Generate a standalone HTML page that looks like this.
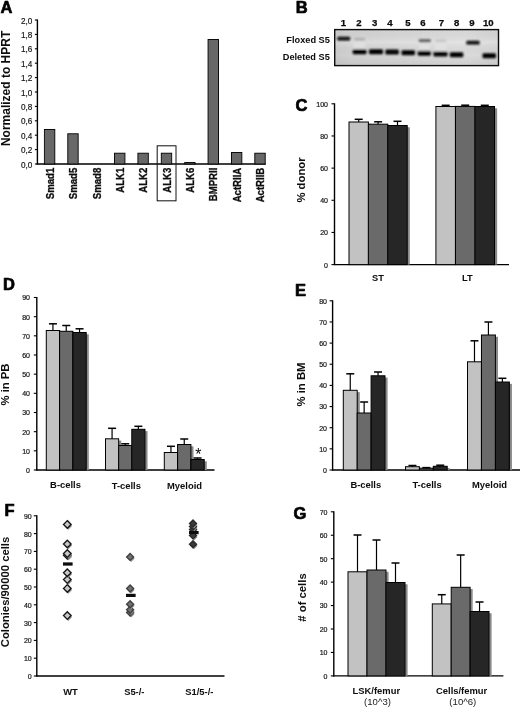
<!DOCTYPE html>
<html><head><meta charset="utf-8"><title>Figure</title>
<style>
html,body{margin:0;padding:0;background:#fff;}
body{width:520px;height:707px;overflow:hidden;font-family:"Liberation Sans",sans-serif;}
svg{display:block;font-family:"Liberation Sans",sans-serif;}
</style></head><body>
<svg width="520" height="707" viewBox="0 0 520 707">
<defs>
<linearGradient id="gelbg" x1="0" y1="0" x2="1" y2="0">
<stop offset="0" stop-color="#cfcfcf"/><stop offset="0.1" stop-color="#d6d6d6"/><stop offset="0.5" stop-color="#dcdcdc"/><stop offset="0.8" stop-color="#e0e0e0"/><stop offset="1" stop-color="#d8d8d8"/>
</linearGradient>
<linearGradient id="gelv" x1="0" y1="0" x2="0" y2="1">
<stop offset="0" stop-color="#000" stop-opacity="0.03"/><stop offset="0.35" stop-color="#fff" stop-opacity="0.12"/><stop offset="0.7" stop-color="#000" stop-opacity="0.02"/><stop offset="1" stop-color="#000" stop-opacity="0.08"/>
</linearGradient>
<filter id="bandblur" x="-5%" y="-20%" width="110%" height="140%"><feGaussianBlur stdDeviation="0.9"/></filter>
<filter id="gelblur" x="-5%" y="-20%" width="110%" height="140%"><feGaussianBlur stdDeviation="0.25"/></filter>
<filter id="soft" x="-2%" y="-2%" width="104%" height="104%"><feGaussianBlur stdDeviation="0.35"/></filter>
</defs>
<rect width="520" height="707" fill="#fff"/>
<g filter="url(#soft)">
<text transform="translate(0.6,13.0) scale(1,1)" font-size="16.5" font-weight="bold" text-anchor="start" fill="#000" stroke="#000" stroke-width="0.7" stroke-linejoin="round">A</text>
<line x1="37.4" y1="19.5" x2="37.4" y2="164.5" stroke="#000" stroke-width="1.4"/>
<line x1="34.9" y1="20.0" x2="37.4" y2="20.0" stroke="#000" stroke-width="1.1"/>
<text transform="translate(32.3,23.504) scale(0.92,1)" font-size="8.9" font-weight="normal" text-anchor="end" fill="#141414" stroke="#141414" stroke-width="0.18" stroke-linejoin="round">2,0</text>
<line x1="34.9" y1="34.4" x2="37.4" y2="34.4" stroke="#000" stroke-width="1.1"/>
<text transform="translate(32.3,37.903999999999996) scale(0.92,1)" font-size="8.9" font-weight="normal" text-anchor="end" fill="#141414" stroke="#141414" stroke-width="0.18" stroke-linejoin="round">1,8</text>
<line x1="34.9" y1="48.8" x2="37.4" y2="48.8" stroke="#000" stroke-width="1.1"/>
<text transform="translate(32.3,52.303999999999995) scale(0.92,1)" font-size="8.9" font-weight="normal" text-anchor="end" fill="#141414" stroke="#141414" stroke-width="0.18" stroke-linejoin="round">1,6</text>
<line x1="34.9" y1="63.2" x2="37.4" y2="63.2" stroke="#000" stroke-width="1.1"/>
<text transform="translate(32.3,66.704) scale(0.92,1)" font-size="8.9" font-weight="normal" text-anchor="end" fill="#141414" stroke="#141414" stroke-width="0.18" stroke-linejoin="round">1,4</text>
<line x1="34.9" y1="77.6" x2="37.4" y2="77.6" stroke="#000" stroke-width="1.1"/>
<text transform="translate(32.3,81.10399999999998) scale(0.92,1)" font-size="8.9" font-weight="normal" text-anchor="end" fill="#141414" stroke="#141414" stroke-width="0.18" stroke-linejoin="round">1,2</text>
<line x1="34.9" y1="92.0" x2="37.4" y2="92.0" stroke="#000" stroke-width="1.1"/>
<text transform="translate(32.3,95.50399999999999) scale(0.92,1)" font-size="8.9" font-weight="normal" text-anchor="end" fill="#141414" stroke="#141414" stroke-width="0.18" stroke-linejoin="round">1,0</text>
<line x1="34.9" y1="106.4" x2="37.4" y2="106.4" stroke="#000" stroke-width="1.1"/>
<text transform="translate(32.3,109.904) scale(0.92,1)" font-size="8.9" font-weight="normal" text-anchor="end" fill="#141414" stroke="#141414" stroke-width="0.18" stroke-linejoin="round">0,8</text>
<line x1="34.9" y1="120.8" x2="37.4" y2="120.8" stroke="#000" stroke-width="1.1"/>
<text transform="translate(32.3,124.30399999999999) scale(0.92,1)" font-size="8.9" font-weight="normal" text-anchor="end" fill="#141414" stroke="#141414" stroke-width="0.18" stroke-linejoin="round">0,6</text>
<line x1="34.9" y1="135.2" x2="37.4" y2="135.2" stroke="#000" stroke-width="1.1"/>
<text transform="translate(32.3,138.704) scale(0.92,1)" font-size="8.9" font-weight="normal" text-anchor="end" fill="#141414" stroke="#141414" stroke-width="0.18" stroke-linejoin="round">0,4</text>
<line x1="34.9" y1="149.6" x2="37.4" y2="149.6" stroke="#000" stroke-width="1.1"/>
<text transform="translate(32.3,153.104) scale(0.92,1)" font-size="8.9" font-weight="normal" text-anchor="end" fill="#141414" stroke="#141414" stroke-width="0.18" stroke-linejoin="round">0,2</text>
<line x1="34.9" y1="164.0" x2="37.4" y2="164.0" stroke="#000" stroke-width="1.1"/>
<text transform="translate(32.3,167.50400000000002) scale(0.92,1)" font-size="8.9" font-weight="normal" text-anchor="end" fill="#141414" stroke="#141414" stroke-width="0.18" stroke-linejoin="round">0,0</text>
<line x1="36.7" y1="164" x2="265.7" y2="164" stroke="#000" stroke-width="1.4"/>
<text transform="translate(10.0,88.4) rotate(-90) scale(1,1)" font-size="12.0" font-weight="bold" text-anchor="middle" fill="#0a0a0a">Normalized to HPRT</text>
<rect x="44.40" y="129.44" width="10.40" height="34.56" fill="#686868" stroke="#000" stroke-width="0.9"/>
<text transform="translate(53.800000000000004,167.7) rotate(-90) scale(0.85,1)" font-size="11.3" font-weight="bold" text-anchor="end" fill="#0a0a0a" stroke="#0a0a0a" stroke-width="0.3">Smad1</text>
<rect x="67.78" y="133.76" width="10.40" height="30.24" fill="#686868" stroke="#000" stroke-width="0.9"/>
<text transform="translate(77.18,167.7) rotate(-90) scale(0.85,1)" font-size="11.3" font-weight="bold" text-anchor="end" fill="#0a0a0a" stroke="#0a0a0a" stroke-width="0.3">Smad5</text>
<text transform="translate(100.56,167.7) rotate(-90) scale(0.85,1)" font-size="11.3" font-weight="bold" text-anchor="end" fill="#0a0a0a" stroke="#0a0a0a" stroke-width="0.3">Smad8</text>
<rect x="114.54" y="153.20" width="10.40" height="10.80" fill="#686868" stroke="#000" stroke-width="0.9"/>
<text transform="translate(123.94000000000001,167.7) rotate(-90) scale(0.85,1)" font-size="11.3" font-weight="bold" text-anchor="end" fill="#0a0a0a" stroke="#0a0a0a" stroke-width="0.3">ALK1</text>
<rect x="137.92" y="153.20" width="10.40" height="10.80" fill="#686868" stroke="#000" stroke-width="0.9"/>
<text transform="translate(147.32,167.7) rotate(-90) scale(0.85,1)" font-size="11.3" font-weight="bold" text-anchor="end" fill="#0a0a0a" stroke="#0a0a0a" stroke-width="0.3">ALK2</text>
<rect x="161.30" y="153.20" width="10.40" height="10.80" fill="#686868" stroke="#000" stroke-width="0.9"/>
<text transform="translate(170.7,167.7) rotate(-90) scale(0.85,1)" font-size="11.3" font-weight="bold" text-anchor="end" fill="#0a0a0a" stroke="#0a0a0a" stroke-width="0.3">ALK3</text>
<rect x="184.68" y="162.56" width="10.40" height="1.44" fill="#686868" stroke="#000" stroke-width="0.9"/>
<text transform="translate(194.07999999999998,167.7) rotate(-90) scale(0.85,1)" font-size="11.3" font-weight="bold" text-anchor="end" fill="#0a0a0a" stroke="#0a0a0a" stroke-width="0.3">ALK6</text>
<rect x="208.06" y="39.44" width="10.40" height="124.56" fill="#686868" stroke="#000" stroke-width="0.9"/>
<text transform="translate(217.45999999999998,167.7) rotate(-90) scale(0.85,1)" font-size="11.3" font-weight="bold" text-anchor="end" fill="#0a0a0a" stroke="#0a0a0a" stroke-width="0.3">BMPRII</text>
<rect x="231.44" y="152.48" width="10.40" height="11.52" fill="#686868" stroke="#000" stroke-width="0.9"/>
<text transform="translate(240.83999999999997,167.7) rotate(-90) scale(0.85,1)" font-size="11.3" font-weight="bold" text-anchor="end" fill="#0a0a0a" stroke="#0a0a0a" stroke-width="0.3">ActRIIA</text>
<rect x="254.82" y="153.20" width="10.40" height="10.80" fill="#686868" stroke="#000" stroke-width="0.9"/>
<text transform="translate(264.21999999999997,167.7) rotate(-90) scale(0.85,1)" font-size="11.3" font-weight="bold" text-anchor="end" fill="#0a0a0a" stroke="#0a0a0a" stroke-width="0.3">ActRIIB</text>
<rect x="157.20" y="145.80" width="18.80" height="55.00" fill="none" stroke="#111" stroke-width="1.0"/>
<text transform="translate(295.8,13.0) scale(1,1)" font-size="16.5" font-weight="bold" text-anchor="start" fill="#000" stroke="#000" stroke-width="0.7" stroke-linejoin="round">B</text>
<text transform="translate(329.8,43.4) scale(0.96,1)" font-size="9.6" font-weight="bold" text-anchor="end" fill="#0a0a0a">Floxed S5</text>
<text transform="translate(329.8,60.4) scale(0.96,1)" font-size="9.6" font-weight="bold" text-anchor="end" fill="#0a0a0a">Deleted S5</text>
<text transform="translate(343.5,25.6) scale(1,1)" font-size="9.6" font-weight="bold" text-anchor="middle" fill="#0a0a0a" stroke="#0a0a0a" stroke-width="0.25" stroke-linejoin="round">1</text>
<text transform="translate(358.8,25.6) scale(1,1)" font-size="9.6" font-weight="bold" text-anchor="middle" fill="#0a0a0a" stroke="#0a0a0a" stroke-width="0.25" stroke-linejoin="round">2</text>
<text transform="translate(374.6,25.6) scale(1,1)" font-size="9.6" font-weight="bold" text-anchor="middle" fill="#0a0a0a" stroke="#0a0a0a" stroke-width="0.25" stroke-linejoin="round">3</text>
<text transform="translate(390,25.6) scale(1,1)" font-size="9.6" font-weight="bold" text-anchor="middle" fill="#0a0a0a" stroke="#0a0a0a" stroke-width="0.25" stroke-linejoin="round">4</text>
<text transform="translate(407.9,25.6) scale(1,1)" font-size="9.6" font-weight="bold" text-anchor="middle" fill="#0a0a0a" stroke="#0a0a0a" stroke-width="0.25" stroke-linejoin="round">5</text>
<text transform="translate(423,25.6) scale(1,1)" font-size="9.6" font-weight="bold" text-anchor="middle" fill="#0a0a0a" stroke="#0a0a0a" stroke-width="0.25" stroke-linejoin="round">6</text>
<text transform="translate(441.3,25.6) scale(1,1)" font-size="9.6" font-weight="bold" text-anchor="middle" fill="#0a0a0a" stroke="#0a0a0a" stroke-width="0.25" stroke-linejoin="round">7</text>
<text transform="translate(456.7,25.6) scale(1,1)" font-size="9.6" font-weight="bold" text-anchor="middle" fill="#0a0a0a" stroke="#0a0a0a" stroke-width="0.25" stroke-linejoin="round">8</text>
<text transform="translate(472,25.6) scale(1,1)" font-size="9.6" font-weight="bold" text-anchor="middle" fill="#0a0a0a" stroke="#0a0a0a" stroke-width="0.25" stroke-linejoin="round">9</text>
<text transform="translate(488.3,25.6) scale(1,1)" font-size="9.6" font-weight="bold" text-anchor="middle" fill="#0a0a0a" stroke="#0a0a0a" stroke-width="0.25" stroke-linejoin="round">10</text>
<g filter="url(#gelblur)">
<rect x="334.7" y="29.6" width="163.8" height="36" fill="url(#gelbg)"/>
<rect x="334.7" y="29.6" width="163.8" height="36" fill="url(#gelv)" stroke="#0a0a0a" stroke-width="1.4"/>
</g>
<g filter="url(#bandblur)">
<rect x="353.5" y="40.5" width="12.0" height="9" rx="1.2" fill="#dfdfdf"/>
<rect x="419" y="42.5" width="11" height="9" rx="1.2" fill="#e1e1e1"/>
<rect x="435" y="42.5" width="11.5" height="9" rx="1.2" fill="#e1e1e1"/>
<rect x="337.3" y="36.75" width="12.899999999999977" height="3.7" rx="1.2" fill="#080808"/>
<rect x="354" y="38.0" width="11" height="2.6" rx="1.2" fill="#ababab"/>
<rect x="352.7" y="49.2" width="13.800000000000011" height="5.0" rx="1.2" fill="#060606"/>
<rect x="369" y="49.3" width="14" height="5.0" rx="1.2" fill="#060606"/>
<rect x="385.4" y="49.6" width="13.400000000000034" height="5.0" rx="1.2" fill="#060606"/>
<rect x="401.5" y="50.3" width="13.5" height="5.0" rx="1.2" fill="#060606"/>
<rect x="417.7" y="50.8" width="13.100000000000023" height="5.0" rx="1.2" fill="#060606"/>
<rect x="418.7" y="39.3" width="12.100000000000023" height="3.0" rx="1.2" fill="#585858"/>
<rect x="435" y="39.599999999999994" width="11.5" height="2.4" rx="1.2" fill="#c4c4c4"/>
<rect x="433.5" y="51.4" width="14.0" height="5.0" rx="1.2" fill="#060606"/>
<rect x="449.8" y="52.3" width="13.5" height="5.0" rx="1.2" fill="#060606"/>
<rect x="466.3" y="40.800000000000004" width="13.300000000000011" height="3.8" rx="1.2" fill="#080808"/>
<rect x="482.5" y="53.2" width="13.5" height="5.0" rx="1.2" fill="#060606"/>
</g>
<text transform="translate(295.6,111.2) scale(1,1)" font-size="16.5" font-weight="bold" text-anchor="start" fill="#000" stroke="#000" stroke-width="0.7" stroke-linejoin="round">C</text>
<line x1="334.5" y1="103.3" x2="334.5" y2="265.1" stroke="#000" stroke-width="1.4"/>
<line x1="331.5" y1="103.8" x2="334.5" y2="103.8" stroke="#000" stroke-width="1.1"/>
<text transform="translate(328,106.72) scale(1,1)" font-size="7" font-weight="normal" text-anchor="end" fill="#101010" stroke="#101010" stroke-width="0.18" stroke-linejoin="round">100</text>
<line x1="331.5" y1="135.96" x2="334.5" y2="135.96" stroke="#000" stroke-width="1.1"/>
<text transform="translate(328,138.88000000000002) scale(1,1)" font-size="7" font-weight="normal" text-anchor="end" fill="#101010" stroke="#101010" stroke-width="0.18" stroke-linejoin="round">80</text>
<line x1="331.5" y1="168.12" x2="334.5" y2="168.12" stroke="#000" stroke-width="1.1"/>
<text transform="translate(328,171.04000000000002) scale(1,1)" font-size="7" font-weight="normal" text-anchor="end" fill="#101010" stroke="#101010" stroke-width="0.18" stroke-linejoin="round">60</text>
<line x1="331.5" y1="200.28" x2="334.5" y2="200.28" stroke="#000" stroke-width="1.1"/>
<text transform="translate(328,203.20000000000002) scale(1,1)" font-size="7" font-weight="normal" text-anchor="end" fill="#101010" stroke="#101010" stroke-width="0.18" stroke-linejoin="round">40</text>
<line x1="331.5" y1="232.44" x2="334.5" y2="232.44" stroke="#000" stroke-width="1.1"/>
<text transform="translate(328,235.36) scale(1,1)" font-size="7" font-weight="normal" text-anchor="end" fill="#101010" stroke="#101010" stroke-width="0.18" stroke-linejoin="round">20</text>
<line x1="331.5" y1="264.6" x2="334.5" y2="264.6" stroke="#000" stroke-width="1.1"/>
<text transform="translate(328,267.52) scale(1,1)" font-size="7" font-weight="normal" text-anchor="end" fill="#101010" stroke="#101010" stroke-width="0.18" stroke-linejoin="round">0</text>
<line x1="334" y1="264.6" x2="509" y2="264.6" stroke="#000" stroke-width="1.4"/>
<text transform="translate(305.0,180) rotate(-90) scale(1,1)" font-size="11.3" font-weight="bold" text-anchor="middle" fill="#0a0a0a">% donor</text>
<rect x="351.60" y="123.80" width="19.40" height="140.80" fill="#8a8a8a"/>
<rect x="371.00" y="126.00" width="19.40" height="138.60" fill="#8a8a8a"/>
<rect x="390.40" y="127.30" width="19.40" height="137.30" fill="#8a8a8a"/>
<rect x="349.00" y="122.00" width="19.40" height="142.60" fill="#c2c2c2" stroke="#000" stroke-width="1"/>
<rect x="368.40" y="124.20" width="19.40" height="140.40" fill="#6b6b6b" stroke="#000" stroke-width="1"/>
<rect x="387.80" y="125.50" width="19.40" height="139.10" fill="#252525" stroke="#000" stroke-width="1"/>
<line x1="358.7" y1="119.3" x2="358.7" y2="122" stroke="#000" stroke-width="1.2"/>
<line x1="354.7" y1="119.3" x2="362.7" y2="119.3" stroke="#000" stroke-width="1.5"/>
<line x1="378.09999999999997" y1="121.8" x2="378.09999999999997" y2="124.2" stroke="#000" stroke-width="1.2"/>
<line x1="374.09999999999997" y1="121.8" x2="382.09999999999997" y2="121.8" stroke="#000" stroke-width="1.5"/>
<line x1="397.5" y1="121.3" x2="397.5" y2="125.5" stroke="#000" stroke-width="1.2"/>
<line x1="393.5" y1="121.3" x2="401.5" y2="121.3" stroke="#000" stroke-width="1.5"/>
<rect x="438.50" y="108.30" width="19.55" height="156.30" fill="#8a8a8a"/>
<rect x="458.05" y="108.20" width="19.55" height="156.40" fill="#8a8a8a"/>
<rect x="477.60" y="108.30" width="19.55" height="156.30" fill="#8a8a8a"/>
<rect x="435.90" y="106.50" width="19.55" height="158.10" fill="#c2c2c2" stroke="#000" stroke-width="1"/>
<rect x="455.45" y="106.40" width="19.55" height="158.20" fill="#6b6b6b" stroke="#000" stroke-width="1"/>
<rect x="475.00" y="106.50" width="19.55" height="158.10" fill="#252525" stroke="#000" stroke-width="1"/>
<line x1="445.67499999999995" y1="105.3" x2="445.67499999999995" y2="106.5" stroke="#000" stroke-width="1.2"/>
<line x1="441.67499999999995" y1="105.3" x2="449.67499999999995" y2="105.3" stroke="#000" stroke-width="1.5"/>
<line x1="465.22499999999997" y1="105.2" x2="465.22499999999997" y2="106.4" stroke="#000" stroke-width="1.2"/>
<line x1="461.22499999999997" y1="105.2" x2="469.22499999999997" y2="105.2" stroke="#000" stroke-width="1.5"/>
<line x1="484.775" y1="105.3" x2="484.775" y2="106.5" stroke="#000" stroke-width="1.2"/>
<line x1="480.775" y1="105.3" x2="488.775" y2="105.3" stroke="#000" stroke-width="1.5"/>
<text transform="translate(378,281) scale(1,1)" font-size="9.3" font-weight="bold" text-anchor="middle" fill="#0a0a0a">ST</text>
<text transform="translate(467.4,281) scale(1,1)" font-size="9.3" font-weight="bold" text-anchor="middle" fill="#0a0a0a">LT</text>
<text transform="translate(2.9,290.2) scale(1,1)" font-size="16.5" font-weight="bold" text-anchor="start" fill="#000" stroke="#000" stroke-width="0.7" stroke-linejoin="round">D</text>
<line x1="36.8" y1="297.0" x2="36.8" y2="470.5" stroke="#000" stroke-width="1.4"/>
<line x1="33.8" y1="297.5" x2="36.8" y2="297.5" stroke="#000" stroke-width="1.1"/>
<text transform="translate(30.0,300.41999999999996) scale(1,1)" font-size="7" font-weight="normal" text-anchor="end" fill="#101010" stroke="#101010" stroke-width="0.18" stroke-linejoin="round">90</text>
<line x1="33.8" y1="316.6666666666667" x2="36.8" y2="316.6666666666667" stroke="#000" stroke-width="1.1"/>
<text transform="translate(30.0,319.58666666666664) scale(1,1)" font-size="7" font-weight="normal" text-anchor="end" fill="#101010" stroke="#101010" stroke-width="0.18" stroke-linejoin="round">80</text>
<line x1="33.8" y1="335.8333333333333" x2="36.8" y2="335.8333333333333" stroke="#000" stroke-width="1.1"/>
<text transform="translate(30.0,338.7533333333333) scale(1,1)" font-size="7" font-weight="normal" text-anchor="end" fill="#101010" stroke="#101010" stroke-width="0.18" stroke-linejoin="round">70</text>
<line x1="33.8" y1="355.0" x2="36.8" y2="355.0" stroke="#000" stroke-width="1.1"/>
<text transform="translate(30.0,357.91999999999996) scale(1,1)" font-size="7" font-weight="normal" text-anchor="end" fill="#101010" stroke="#101010" stroke-width="0.18" stroke-linejoin="round">60</text>
<line x1="33.8" y1="374.1666666666667" x2="36.8" y2="374.1666666666667" stroke="#000" stroke-width="1.1"/>
<text transform="translate(30.0,377.08666666666664) scale(1,1)" font-size="7" font-weight="normal" text-anchor="end" fill="#101010" stroke="#101010" stroke-width="0.18" stroke-linejoin="round">50</text>
<line x1="33.8" y1="393.3333333333333" x2="36.8" y2="393.3333333333333" stroke="#000" stroke-width="1.1"/>
<text transform="translate(30.0,396.2533333333333) scale(1,1)" font-size="7" font-weight="normal" text-anchor="end" fill="#101010" stroke="#101010" stroke-width="0.18" stroke-linejoin="round">40</text>
<line x1="33.8" y1="412.5" x2="36.8" y2="412.5" stroke="#000" stroke-width="1.1"/>
<text transform="translate(30.0,415.41999999999996) scale(1,1)" font-size="7" font-weight="normal" text-anchor="end" fill="#101010" stroke="#101010" stroke-width="0.18" stroke-linejoin="round">30</text>
<line x1="33.8" y1="431.66666666666663" x2="36.8" y2="431.66666666666663" stroke="#000" stroke-width="1.1"/>
<text transform="translate(30.0,434.5866666666666) scale(1,1)" font-size="7" font-weight="normal" text-anchor="end" fill="#101010" stroke="#101010" stroke-width="0.18" stroke-linejoin="round">20</text>
<line x1="33.8" y1="450.83333333333337" x2="36.8" y2="450.83333333333337" stroke="#000" stroke-width="1.1"/>
<text transform="translate(30.0,453.75333333333333) scale(1,1)" font-size="7" font-weight="normal" text-anchor="end" fill="#101010" stroke="#101010" stroke-width="0.18" stroke-linejoin="round">10</text>
<line x1="33.8" y1="470.0" x2="36.8" y2="470.0" stroke="#000" stroke-width="1.1"/>
<text transform="translate(30.0,472.91999999999996) scale(1,1)" font-size="7" font-weight="normal" text-anchor="end" fill="#101010" stroke="#101010" stroke-width="0.18" stroke-linejoin="round">0</text>
<line x1="36.2" y1="470" x2="214.5" y2="470" stroke="#000" stroke-width="1.4"/>
<text transform="translate(9.3,384.5) rotate(-90) scale(1,1)" font-size="11.3" font-weight="bold" text-anchor="middle" fill="#0a0a0a">% in PB</text>
<rect x="48.90" y="332.30" width="13.30" height="137.70" fill="#8a8a8a"/>
<rect x="62.20" y="333.10" width="13.30" height="136.90" fill="#8a8a8a"/>
<rect x="75.50" y="334.30" width="13.30" height="135.70" fill="#8a8a8a"/>
<rect x="46.30" y="330.50" width="13.30" height="139.50" fill="#c2c2c2" stroke="#000" stroke-width="1"/>
<rect x="59.60" y="331.30" width="13.30" height="138.70" fill="#6b6b6b" stroke="#000" stroke-width="1"/>
<rect x="72.90" y="332.50" width="13.30" height="137.50" fill="#252525" stroke="#000" stroke-width="1"/>
<line x1="52.949999999999996" y1="323.8" x2="52.949999999999996" y2="330.5" stroke="#000" stroke-width="1.2"/>
<line x1="48.949999999999996" y1="323.8" x2="56.949999999999996" y2="323.8" stroke="#000" stroke-width="1.5"/>
<line x1="66.25" y1="325.5" x2="66.25" y2="331.3" stroke="#000" stroke-width="1.2"/>
<line x1="62.25" y1="325.5" x2="70.25" y2="325.5" stroke="#000" stroke-width="1.5"/>
<line x1="79.55000000000001" y1="328.8" x2="79.55000000000001" y2="332.5" stroke="#000" stroke-width="1.2"/>
<line x1="75.55000000000001" y1="328.8" x2="83.55000000000001" y2="328.8" stroke="#000" stroke-width="1.5"/>
<rect x="108.10" y="440.60" width="13.15" height="29.40" fill="#8a8a8a"/>
<rect x="121.25" y="447.30" width="13.15" height="22.70" fill="#8a8a8a"/>
<rect x="134.40" y="431.10" width="13.15" height="38.90" fill="#8a8a8a"/>
<rect x="105.50" y="438.80" width="13.15" height="31.20" fill="#c2c2c2" stroke="#000" stroke-width="1"/>
<rect x="118.65" y="445.50" width="13.15" height="24.50" fill="#6b6b6b" stroke="#000" stroke-width="1"/>
<rect x="131.80" y="429.30" width="13.15" height="40.70" fill="#252525" stroke="#000" stroke-width="1"/>
<line x1="112.075" y1="428.3" x2="112.075" y2="438.8" stroke="#000" stroke-width="1.2"/>
<line x1="108.075" y1="428.3" x2="116.075" y2="428.3" stroke="#000" stroke-width="1.5"/>
<line x1="125.22500000000001" y1="443.8" x2="125.22500000000001" y2="445.5" stroke="#000" stroke-width="1.2"/>
<line x1="121.22500000000001" y1="443.8" x2="129.22500000000002" y2="443.8" stroke="#000" stroke-width="1.5"/>
<line x1="138.375" y1="426.3" x2="138.375" y2="429.3" stroke="#000" stroke-width="1.2"/>
<line x1="134.375" y1="426.3" x2="142.375" y2="426.3" stroke="#000" stroke-width="1.5"/>
<rect x="166.90" y="454.30" width="13.30" height="15.70" fill="#8a8a8a"/>
<rect x="180.20" y="446.30" width="13.30" height="23.70" fill="#8a8a8a"/>
<rect x="193.50" y="461.30" width="13.30" height="8.70" fill="#8a8a8a"/>
<rect x="164.30" y="452.50" width="13.30" height="17.50" fill="#c2c2c2" stroke="#000" stroke-width="1"/>
<rect x="177.60" y="444.50" width="13.30" height="25.50" fill="#6b6b6b" stroke="#000" stroke-width="1"/>
<rect x="190.90" y="459.50" width="13.30" height="10.50" fill="#252525" stroke="#000" stroke-width="1"/>
<line x1="170.95000000000002" y1="446.3" x2="170.95000000000002" y2="452.5" stroke="#000" stroke-width="1.2"/>
<line x1="166.95000000000002" y1="446.3" x2="174.95000000000002" y2="446.3" stroke="#000" stroke-width="1.5"/>
<line x1="184.25000000000003" y1="439" x2="184.25000000000003" y2="444.5" stroke="#000" stroke-width="1.2"/>
<line x1="180.25000000000003" y1="439" x2="188.25000000000003" y2="439" stroke="#000" stroke-width="1.5"/>
<line x1="197.55" y1="458" x2="197.55" y2="459.5" stroke="#000" stroke-width="1.2"/>
<line x1="193.55" y1="458" x2="201.55" y2="458" stroke="#000" stroke-width="1.5"/>
<text transform="translate(65.5,488.2) scale(1,1)" font-size="9.4" font-weight="bold" text-anchor="middle" fill="#0a0a0a">B-cells</text>
<text transform="translate(126.3,488.8) scale(1,1)" font-size="9.4" font-weight="bold" text-anchor="middle" fill="#0a0a0a">T-cells</text>
<text transform="translate(184.5,488.8) scale(1,1)" font-size="9.4" font-weight="bold" text-anchor="middle" fill="#0a0a0a">Myeloid</text>
<text transform="translate(198.3,459.8) scale(1,1)" font-size="15.9" font-weight="normal" text-anchor="middle" fill="#0a0a0a">*</text>
<text transform="translate(295.0,296.2) scale(1,1)" font-size="16.5" font-weight="bold" text-anchor="start" fill="#000" stroke="#000" stroke-width="0.7" stroke-linejoin="round">E</text>
<line x1="332.6" y1="300.3" x2="332.6" y2="470.5" stroke="#000" stroke-width="1.4"/>
<line x1="329.6" y1="300.8" x2="332.6" y2="300.8" stroke="#000" stroke-width="1.1"/>
<text transform="translate(327,303.71999999999997) scale(1,1)" font-size="7" font-weight="normal" text-anchor="end" fill="#101010" stroke="#101010" stroke-width="0.18" stroke-linejoin="round">80</text>
<line x1="329.6" y1="321.95" x2="332.6" y2="321.95" stroke="#000" stroke-width="1.1"/>
<text transform="translate(327,324.86999999999995) scale(1,1)" font-size="7" font-weight="normal" text-anchor="end" fill="#101010" stroke="#101010" stroke-width="0.18" stroke-linejoin="round">70</text>
<line x1="329.6" y1="343.1" x2="332.6" y2="343.1" stroke="#000" stroke-width="1.1"/>
<text transform="translate(327,346.02) scale(1,1)" font-size="7" font-weight="normal" text-anchor="end" fill="#101010" stroke="#101010" stroke-width="0.18" stroke-linejoin="round">60</text>
<line x1="329.6" y1="364.25" x2="332.6" y2="364.25" stroke="#000" stroke-width="1.1"/>
<text transform="translate(327,367.16999999999996) scale(1,1)" font-size="7" font-weight="normal" text-anchor="end" fill="#101010" stroke="#101010" stroke-width="0.18" stroke-linejoin="round">50</text>
<line x1="329.6" y1="385.4" x2="332.6" y2="385.4" stroke="#000" stroke-width="1.1"/>
<text transform="translate(327,388.31999999999994) scale(1,1)" font-size="7" font-weight="normal" text-anchor="end" fill="#101010" stroke="#101010" stroke-width="0.18" stroke-linejoin="round">40</text>
<line x1="329.6" y1="406.55" x2="332.6" y2="406.55" stroke="#000" stroke-width="1.1"/>
<text transform="translate(327,409.46999999999997) scale(1,1)" font-size="7" font-weight="normal" text-anchor="end" fill="#101010" stroke="#101010" stroke-width="0.18" stroke-linejoin="round">30</text>
<line x1="329.6" y1="427.7" x2="332.6" y2="427.7" stroke="#000" stroke-width="1.1"/>
<text transform="translate(327,430.61999999999995) scale(1,1)" font-size="7" font-weight="normal" text-anchor="end" fill="#101010" stroke="#101010" stroke-width="0.18" stroke-linejoin="round">20</text>
<line x1="329.6" y1="448.85" x2="332.6" y2="448.85" stroke="#000" stroke-width="1.1"/>
<text transform="translate(327,451.77) scale(1,1)" font-size="7" font-weight="normal" text-anchor="end" fill="#101010" stroke="#101010" stroke-width="0.18" stroke-linejoin="round">10</text>
<line x1="329.6" y1="470.0" x2="332.6" y2="470.0" stroke="#000" stroke-width="1.1"/>
<text transform="translate(327,472.91999999999996) scale(1,1)" font-size="7" font-weight="normal" text-anchor="end" fill="#101010" stroke="#101010" stroke-width="0.18" stroke-linejoin="round">0</text>
<line x1="332" y1="470" x2="520" y2="470" stroke="#000" stroke-width="1.4"/>
<text transform="translate(305.0,384.5) rotate(-90) scale(1,1)" font-size="11.3" font-weight="bold" text-anchor="middle" fill="#0a0a0a">% in BM</text>
<rect x="345.90" y="392.10" width="13.90" height="77.90" fill="#8a8a8a"/>
<rect x="359.80" y="414.80" width="13.90" height="55.20" fill="#8a8a8a"/>
<rect x="373.70" y="377.60" width="13.90" height="92.40" fill="#8a8a8a"/>
<rect x="343.30" y="390.30" width="13.90" height="79.70" fill="#c2c2c2" stroke="#000" stroke-width="1"/>
<rect x="357.20" y="413.00" width="13.90" height="57.00" fill="#6b6b6b" stroke="#000" stroke-width="1"/>
<rect x="371.10" y="375.80" width="13.90" height="94.20" fill="#252525" stroke="#000" stroke-width="1"/>
<line x1="350.25" y1="373.8" x2="350.25" y2="390.3" stroke="#000" stroke-width="1.2"/>
<line x1="346.25" y1="373.8" x2="354.25" y2="373.8" stroke="#000" stroke-width="1.5"/>
<line x1="364.15" y1="402" x2="364.15" y2="413" stroke="#000" stroke-width="1.2"/>
<line x1="360.15" y1="402" x2="368.15" y2="402" stroke="#000" stroke-width="1.5"/>
<line x1="378.05" y1="372" x2="378.05" y2="375.8" stroke="#000" stroke-width="1.2"/>
<line x1="374.05" y1="372" x2="382.05" y2="372" stroke="#000" stroke-width="1.5"/>
<rect x="408.10" y="468.50" width="13.90" height="1.50" fill="#8a8a8a"/>
<rect x="422.00" y="470.00" width="13.90" height="0.00" fill="#8a8a8a"/>
<rect x="435.90" y="468.10" width="13.90" height="1.90" fill="#8a8a8a"/>
<rect x="405.50" y="466.70" width="13.90" height="3.30" fill="#c2c2c2" stroke="#000" stroke-width="1"/>
<rect x="419.40" y="468.20" width="13.90" height="1.80" fill="#6b6b6b" stroke="#000" stroke-width="1"/>
<rect x="433.30" y="466.30" width="13.90" height="3.70" fill="#252525" stroke="#000" stroke-width="1"/>
<line x1="412.45" y1="465.5" x2="412.45" y2="466.7" stroke="#000" stroke-width="1.2"/>
<line x1="408.45" y1="465.5" x2="416.45" y2="465.5" stroke="#000" stroke-width="1.5"/>
<line x1="426.34999999999997" y1="467.6" x2="426.34999999999997" y2="468.2" stroke="#000" stroke-width="1.2"/>
<line x1="422.34999999999997" y1="467.6" x2="430.34999999999997" y2="467.6" stroke="#000" stroke-width="1.5"/>
<line x1="440.25" y1="465.2" x2="440.25" y2="466.3" stroke="#000" stroke-width="1.2"/>
<line x1="436.25" y1="465.2" x2="444.25" y2="465.2" stroke="#000" stroke-width="1.5"/>
<rect x="470.10" y="363.60" width="13.95" height="106.40" fill="#8a8a8a"/>
<rect x="484.05" y="336.80" width="13.95" height="133.20" fill="#8a8a8a"/>
<rect x="498.00" y="383.80" width="13.95" height="86.20" fill="#8a8a8a"/>
<rect x="467.50" y="361.80" width="13.95" height="108.20" fill="#c2c2c2" stroke="#000" stroke-width="1"/>
<rect x="481.45" y="335.00" width="13.95" height="135.00" fill="#6b6b6b" stroke="#000" stroke-width="1"/>
<rect x="495.40" y="382.00" width="13.95" height="88.00" fill="#252525" stroke="#000" stroke-width="1"/>
<line x1="474.475" y1="340.8" x2="474.475" y2="361.8" stroke="#000" stroke-width="1.2"/>
<line x1="470.475" y1="340.8" x2="478.475" y2="340.8" stroke="#000" stroke-width="1.5"/>
<line x1="488.425" y1="322" x2="488.425" y2="335" stroke="#000" stroke-width="1.2"/>
<line x1="484.425" y1="322" x2="492.425" y2="322" stroke="#000" stroke-width="1.5"/>
<line x1="502.375" y1="378.3" x2="502.375" y2="382" stroke="#000" stroke-width="1.2"/>
<line x1="498.375" y1="378.3" x2="506.375" y2="378.3" stroke="#000" stroke-width="1.5"/>
<text transform="translate(365.8,487.8) scale(1,1)" font-size="9.4" font-weight="bold" text-anchor="middle" fill="#0a0a0a">B-cells</text>
<text transform="translate(427,487.8) scale(1,1)" font-size="9.4" font-weight="bold" text-anchor="middle" fill="#0a0a0a">T-cells</text>
<text transform="translate(489.5,487.8) scale(1,1)" font-size="9.4" font-weight="bold" text-anchor="middle" fill="#0a0a0a">Myeloid</text>
<text transform="translate(4.4,515.6) scale(1,1)" font-size="16.5" font-weight="bold" text-anchor="start" fill="#000" stroke="#000" stroke-width="0.7" stroke-linejoin="round">F</text>
<line x1="36.8" y1="515.3" x2="36.8" y2="676.5" stroke="#000" stroke-width="1.4"/>
<line x1="33.8" y1="515.8" x2="36.8" y2="515.8" stroke="#000" stroke-width="1.1"/>
<text transform="translate(31.7,518.7199999999999) scale(1,1)" font-size="7" font-weight="normal" text-anchor="end" fill="#101010" stroke="#101010" stroke-width="0.18" stroke-linejoin="round">90</text>
<line x1="33.8" y1="533.5999999999999" x2="36.8" y2="533.5999999999999" stroke="#000" stroke-width="1.1"/>
<text transform="translate(31.7,536.5199999999999) scale(1,1)" font-size="7" font-weight="normal" text-anchor="end" fill="#101010" stroke="#101010" stroke-width="0.18" stroke-linejoin="round">80</text>
<line x1="33.8" y1="551.4" x2="36.8" y2="551.4" stroke="#000" stroke-width="1.1"/>
<text transform="translate(31.7,554.3199999999999) scale(1,1)" font-size="7" font-weight="normal" text-anchor="end" fill="#101010" stroke="#101010" stroke-width="0.18" stroke-linejoin="round">70</text>
<line x1="33.8" y1="569.1999999999999" x2="36.8" y2="569.1999999999999" stroke="#000" stroke-width="1.1"/>
<text transform="translate(31.7,572.1199999999999) scale(1,1)" font-size="7" font-weight="normal" text-anchor="end" fill="#101010" stroke="#101010" stroke-width="0.18" stroke-linejoin="round">60</text>
<line x1="33.8" y1="587.0" x2="36.8" y2="587.0" stroke="#000" stroke-width="1.1"/>
<text transform="translate(31.7,589.92) scale(1,1)" font-size="7" font-weight="normal" text-anchor="end" fill="#101010" stroke="#101010" stroke-width="0.18" stroke-linejoin="round">50</text>
<line x1="33.8" y1="604.8" x2="36.8" y2="604.8" stroke="#000" stroke-width="1.1"/>
<text transform="translate(31.7,607.7199999999999) scale(1,1)" font-size="7" font-weight="normal" text-anchor="end" fill="#101010" stroke="#101010" stroke-width="0.18" stroke-linejoin="round">40</text>
<line x1="33.8" y1="622.6" x2="36.8" y2="622.6" stroke="#000" stroke-width="1.1"/>
<text transform="translate(31.7,625.52) scale(1,1)" font-size="7" font-weight="normal" text-anchor="end" fill="#101010" stroke="#101010" stroke-width="0.18" stroke-linejoin="round">30</text>
<line x1="33.8" y1="640.4" x2="36.8" y2="640.4" stroke="#000" stroke-width="1.1"/>
<text transform="translate(31.7,643.3199999999999) scale(1,1)" font-size="7" font-weight="normal" text-anchor="end" fill="#101010" stroke="#101010" stroke-width="0.18" stroke-linejoin="round">20</text>
<line x1="33.8" y1="658.2" x2="36.8" y2="658.2" stroke="#000" stroke-width="1.1"/>
<text transform="translate(31.7,661.12) scale(1,1)" font-size="7" font-weight="normal" text-anchor="end" fill="#101010" stroke="#101010" stroke-width="0.18" stroke-linejoin="round">10</text>
<line x1="33.8" y1="676.0" x2="36.8" y2="676.0" stroke="#000" stroke-width="1.1"/>
<text transform="translate(31.7,678.92) scale(1,1)" font-size="7" font-weight="normal" text-anchor="end" fill="#101010" stroke="#101010" stroke-width="0.18" stroke-linejoin="round">0</text>
<line x1="36.2" y1="676" x2="224.5" y2="676" stroke="#000" stroke-width="1.4"/>
<text transform="translate(9.3,592) rotate(-90) scale(1,1)" font-size="11.3" font-weight="bold" text-anchor="middle" fill="#0a0a0a">Colonies/90000 cells</text>
<path d="M68.3,613.3000000000001 l3.8,3.8 l-3.8,3.8 l-3.8,-3.8 z" fill="#909090"/>
<path d="M67.3,611.8000000000001 l3.8,3.8 l-3.8,3.8 l-3.8,-3.8 z" fill="#c8c8c8" stroke="#161616" stroke-width="1.35"/>
<path d="M68.3,586.1 l3.8,3.8 l-3.8,3.8 l-3.8,-3.8 z" fill="#909090"/>
<path d="M67.3,584.6 l3.8,3.8 l-3.8,3.8 l-3.8,-3.8 z" fill="#c8c8c8" stroke="#161616" stroke-width="1.35"/>
<path d="M68.3,577.3000000000001 l3.8,3.8 l-3.8,3.8 l-3.8,-3.8 z" fill="#909090"/>
<path d="M67.3,575.8000000000001 l3.8,3.8 l-3.8,3.8 l-3.8,-3.8 z" fill="#c8c8c8" stroke="#161616" stroke-width="1.35"/>
<path d="M68.3,570.5 l3.8,3.8 l-3.8,3.8 l-3.8,-3.8 z" fill="#909090"/>
<path d="M67.3,569.0 l3.8,3.8 l-3.8,3.8 l-3.8,-3.8 z" fill="#c8c8c8" stroke="#161616" stroke-width="1.35"/>
<path d="M68.3,552.9000000000001 l3.8,3.8 l-3.8,3.8 l-3.8,-3.8 z" fill="#909090"/>
<path d="M67.3,551.4000000000001 l3.8,3.8 l-3.8,3.8 l-3.8,-3.8 z" fill="#c8c8c8" stroke="#161616" stroke-width="1.35"/>
<path d="M68.3,551.3000000000001 l3.8,3.8 l-3.8,3.8 l-3.8,-3.8 z" fill="#909090"/>
<path d="M67.3,549.8000000000001 l3.8,3.8 l-3.8,3.8 l-3.8,-3.8 z" fill="#c8c8c8" stroke="#161616" stroke-width="1.35"/>
<path d="M68.3,541.7 l3.8,3.8 l-3.8,3.8 l-3.8,-3.8 z" fill="#909090"/>
<path d="M67.3,540.2 l3.8,3.8 l-3.8,3.8 l-3.8,-3.8 z" fill="#c8c8c8" stroke="#161616" stroke-width="1.35"/>
<path d="M68.3,522.1 l3.8,3.8 l-3.8,3.8 l-3.8,-3.8 z" fill="#909090"/>
<path d="M67.3,520.6 l3.8,3.8 l-3.8,3.8 l-3.8,-3.8 z" fill="#c8c8c8" stroke="#161616" stroke-width="1.35"/>
<rect x="63.0" y="562.4" width="9.6" height="3.2" fill="#0a0a0a"/>
<path d="M131.1,610.5 l3.5,3.5 l-3.5,3.5 l-3.5,-3.5 z" fill="#909090"/>
<path d="M130.1,609.0 l3.5,3.5 l-3.5,3.5 l-3.5,-3.5 z" fill="#727272" stroke="#404040" stroke-width="1.35"/>
<path d="M131.1,607.8 l3.5,3.5 l-3.5,3.5 l-3.5,-3.5 z" fill="#909090"/>
<path d="M130.1,606.3 l3.5,3.5 l-3.5,3.5 l-3.5,-3.5 z" fill="#727272" stroke="#404040" stroke-width="1.35"/>
<path d="M131.1,602.2 l3.5,3.5 l-3.5,3.5 l-3.5,-3.5 z" fill="#909090"/>
<path d="M130.1,600.7 l3.5,3.5 l-3.5,3.5 l-3.5,-3.5 z" fill="#727272" stroke="#404040" stroke-width="1.35"/>
<path d="M131.1,586.5 l3.5,3.5 l-3.5,3.5 l-3.5,-3.5 z" fill="#909090"/>
<path d="M130.1,585.0 l3.5,3.5 l-3.5,3.5 l-3.5,-3.5 z" fill="#727272" stroke="#404040" stroke-width="1.35"/>
<path d="M131.1,554.9 l3.5,3.5 l-3.5,3.5 l-3.5,-3.5 z" fill="#909090"/>
<path d="M130.1,553.4 l3.5,3.5 l-3.5,3.5 l-3.5,-3.5 z" fill="#727272" stroke="#404040" stroke-width="1.35"/>
<rect x="126.00000000000001" y="593.8" width="9.6" height="3.2" fill="#0a0a0a"/>
<path d="M194.0,542.2 l3.5,3.5 l-3.5,3.5 l-3.5,-3.5 z" fill="#909090"/>
<path d="M193,540.7 l3.5,3.5 l-3.5,3.5 l-3.5,-3.5 z" fill="#3a3a3a" stroke="#2a2a2a" stroke-width="1.35"/>
<path d="M194.0,533.4 l3.5,3.5 l-3.5,3.5 l-3.5,-3.5 z" fill="#909090"/>
<path d="M193,531.9 l3.5,3.5 l-3.5,3.5 l-3.5,-3.5 z" fill="#3a3a3a" stroke="#2a2a2a" stroke-width="1.35"/>
<path d="M194.0,527.6 l3.5,3.5 l-3.5,3.5 l-3.5,-3.5 z" fill="#909090"/>
<path d="M193,526.1 l3.5,3.5 l-3.5,3.5 l-3.5,-3.5 z" fill="#3a3a3a" stroke="#2a2a2a" stroke-width="1.35"/>
<path d="M194.0,524.6 l3.5,3.5 l-3.5,3.5 l-3.5,-3.5 z" fill="#909090"/>
<path d="M193,523.1 l3.5,3.5 l-3.5,3.5 l-3.5,-3.5 z" fill="#3a3a3a" stroke="#2a2a2a" stroke-width="1.35"/>
<path d="M194.0,521.4 l3.5,3.5 l-3.5,3.5 l-3.5,-3.5 z" fill="#909090"/>
<path d="M193,519.9 l3.5,3.5 l-3.5,3.5 l-3.5,-3.5 z" fill="#3a3a3a" stroke="#2a2a2a" stroke-width="1.35"/>
<rect x="189.0" y="531.0" width="9.6" height="3.2" fill="#0a0a0a"/>
<text transform="translate(70.5,694.6) scale(1,1)" font-size="9.4" font-weight="bold" text-anchor="middle" fill="#0a0a0a">WT</text>
<text transform="translate(134.3,694.6) scale(1,1)" font-size="9.4" font-weight="bold" text-anchor="middle" fill="#0a0a0a">S5-/-</text>
<text transform="translate(199.3,694.6) scale(1,1)" font-size="9.4" font-weight="bold" text-anchor="middle" fill="#0a0a0a">S1/5-/-</text>
<text transform="translate(293.6,519.3) scale(1,1)" font-size="16.5" font-weight="bold" text-anchor="start" fill="#000" stroke="#000" stroke-width="0.7" stroke-linejoin="round">G</text>
<line x1="333.8" y1="511.3" x2="333.8" y2="676.4" stroke="#000" stroke-width="1.4"/>
<line x1="330.8" y1="511.8" x2="333.8" y2="511.8" stroke="#000" stroke-width="1.1"/>
<text transform="translate(327.5,514.72) scale(1,1)" font-size="7" font-weight="normal" text-anchor="end" fill="#101010" stroke="#101010" stroke-width="0.18" stroke-linejoin="round">70</text>
<line x1="330.8" y1="535.2428571428571" x2="333.8" y2="535.2428571428571" stroke="#000" stroke-width="1.1"/>
<text transform="translate(327.5,538.1628571428571) scale(1,1)" font-size="7" font-weight="normal" text-anchor="end" fill="#101010" stroke="#101010" stroke-width="0.18" stroke-linejoin="round">60</text>
<line x1="330.8" y1="558.6857142857143" x2="333.8" y2="558.6857142857143" stroke="#000" stroke-width="1.1"/>
<text transform="translate(327.5,561.6057142857143) scale(1,1)" font-size="7" font-weight="normal" text-anchor="end" fill="#101010" stroke="#101010" stroke-width="0.18" stroke-linejoin="round">50</text>
<line x1="330.8" y1="582.1285714285714" x2="333.8" y2="582.1285714285714" stroke="#000" stroke-width="1.1"/>
<text transform="translate(327.5,585.0485714285713) scale(1,1)" font-size="7" font-weight="normal" text-anchor="end" fill="#101010" stroke="#101010" stroke-width="0.18" stroke-linejoin="round">40</text>
<line x1="330.8" y1="605.5714285714286" x2="333.8" y2="605.5714285714286" stroke="#000" stroke-width="1.1"/>
<text transform="translate(327.5,608.4914285714285) scale(1,1)" font-size="7" font-weight="normal" text-anchor="end" fill="#101010" stroke="#101010" stroke-width="0.18" stroke-linejoin="round">30</text>
<line x1="330.8" y1="629.0142857142857" x2="333.8" y2="629.0142857142857" stroke="#000" stroke-width="1.1"/>
<text transform="translate(327.5,631.9342857142857) scale(1,1)" font-size="7" font-weight="normal" text-anchor="end" fill="#101010" stroke="#101010" stroke-width="0.18" stroke-linejoin="round">20</text>
<line x1="330.8" y1="652.4571428571428" x2="333.8" y2="652.4571428571428" stroke="#000" stroke-width="1.1"/>
<text transform="translate(327.5,655.3771428571428) scale(1,1)" font-size="7" font-weight="normal" text-anchor="end" fill="#101010" stroke="#101010" stroke-width="0.18" stroke-linejoin="round">10</text>
<line x1="330.8" y1="675.9" x2="333.8" y2="675.9" stroke="#000" stroke-width="1.1"/>
<text transform="translate(327.5,678.8199999999999) scale(1,1)" font-size="7" font-weight="normal" text-anchor="end" fill="#101010" stroke="#101010" stroke-width="0.18" stroke-linejoin="round">0</text>
<line x1="333.2" y1="675.9" x2="503.4" y2="675.9" stroke="#000" stroke-width="1.4"/>
<text transform="translate(306.0,597.5) rotate(-90) scale(1,1)" font-size="11.3" font-weight="bold" text-anchor="middle" fill="#0a0a0a"># of cells</text>
<rect x="350.60" y="573.60" width="19.00" height="102.30" fill="#8a8a8a"/>
<rect x="369.60" y="571.80" width="19.00" height="104.10" fill="#8a8a8a"/>
<rect x="388.60" y="584.30" width="19.00" height="91.60" fill="#8a8a8a"/>
<rect x="348.00" y="571.80" width="19.00" height="104.10" fill="#c2c2c2" stroke="#000" stroke-width="1"/>
<rect x="367.00" y="570.00" width="19.00" height="105.90" fill="#6b6b6b" stroke="#000" stroke-width="1"/>
<rect x="386.00" y="582.50" width="19.00" height="93.40" fill="#252525" stroke="#000" stroke-width="1"/>
<line x1="357.5" y1="535" x2="357.5" y2="571.8" stroke="#000" stroke-width="1.2"/>
<line x1="353.5" y1="535" x2="361.5" y2="535" stroke="#000" stroke-width="1.5"/>
<line x1="376.5" y1="540" x2="376.5" y2="570" stroke="#000" stroke-width="1.2"/>
<line x1="372.5" y1="540" x2="380.5" y2="540" stroke="#000" stroke-width="1.5"/>
<line x1="395.5" y1="563" x2="395.5" y2="582.5" stroke="#000" stroke-width="1.2"/>
<line x1="391.5" y1="563" x2="399.5" y2="563" stroke="#000" stroke-width="1.5"/>
<rect x="434.90" y="605.70" width="18.90" height="70.20" fill="#8a8a8a"/>
<rect x="453.80" y="589.10" width="18.90" height="86.80" fill="#8a8a8a"/>
<rect x="472.70" y="613.30" width="18.90" height="62.60" fill="#8a8a8a"/>
<rect x="432.30" y="603.90" width="18.90" height="72.00" fill="#c2c2c2" stroke="#000" stroke-width="1"/>
<rect x="451.20" y="587.30" width="18.90" height="88.60" fill="#6b6b6b" stroke="#000" stroke-width="1"/>
<rect x="470.10" y="611.50" width="18.90" height="64.40" fill="#252525" stroke="#000" stroke-width="1"/>
<line x1="441.75" y1="594.7" x2="441.75" y2="603.9" stroke="#000" stroke-width="1.2"/>
<line x1="437.75" y1="594.7" x2="445.75" y2="594.7" stroke="#000" stroke-width="1.5"/>
<line x1="460.65" y1="555" x2="460.65" y2="587.3" stroke="#000" stroke-width="1.2"/>
<line x1="456.65" y1="555" x2="464.65" y2="555" stroke="#000" stroke-width="1.5"/>
<line x1="479.55" y1="602" x2="479.55" y2="611.5" stroke="#000" stroke-width="1.2"/>
<line x1="475.55" y1="602" x2="483.55" y2="602" stroke="#000" stroke-width="1.5"/>
<text transform="translate(376.3,694.2) scale(1,1)" font-size="9.4" font-weight="bold" text-anchor="middle" fill="#0a0a0a">LSK/femur</text>
<text transform="translate(377.5,704.6) scale(1,1)" font-size="9.6" font-weight="normal" text-anchor="middle" fill="#222">(10^3)</text>
<text transform="translate(461.6,694.2) scale(1,1)" font-size="9.4" font-weight="bold" text-anchor="middle" fill="#0a0a0a">Cells/femur</text>
<text transform="translate(462.8,704.6) scale(1,1)" font-size="9.6" font-weight="normal" text-anchor="middle" fill="#222">(10^6)</text>
</g>
</svg>
</body></html>
